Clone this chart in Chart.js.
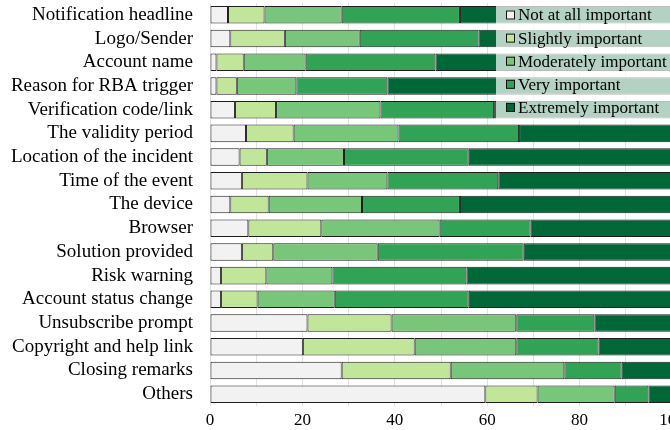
<!DOCTYPE html>
<html>
<head>
<meta charset="utf-8">
<script src="https://cdn.jsdelivr.net/npm/chart.js@4/dist/chart.umd.min.js"></script>
<style>
  html, body { margin: 0; padding: 0; background: #fff; overflow: hidden; }
  #wrap { position: relative; width: 690px; height: 430px; }
</style>
</head>
<body>
<div id="wrap"><canvas id="chart" width="690" height="430"></canvas></div>
<script>
// ── data (percent of respondents) ─────────────────
const categories = [
  'Notification headline', 'Logo/Sender', 'Account name', 'Reason for RBA trigger',
  'Verification code/link', 'The validity period', 'Location of the incident',
  'Time of the event', 'The device', 'Browser', 'Solution provided', 'Risk warning',
  'Account status change', 'Unsubscribe prompt', 'Copyright and help link',
  'Closing remarks', 'Others'
];
const seriesNames = [
  'Not at all important', 'Slightly important', 'Moderately important',
  'Very important', 'Extremely important'
];
const notAtAll   = [3.9, 4.4, 1.4, 1.4, 5.4, 7.8, 6.4, 6.9, 4.4, 8.3, 6.9, 2.4, 2.4, 21.1, 20.1, 28.5, 59.6];
const slightly   = [7.9, 11.8, 5.9, 4.4, 8.9, 10.3, 5.9, 14.2, 8.3, 15.8, 6.8, 9.8, 7.9, 18.2, 24.2, 23.6, 11.3];
const moderately = [16.7, 16.2, 13.4, 12.9, 22.6, 22.7, 16.7, 17.3, 20.2, 25.6, 22.6, 14.3, 16.7, 27.0, 22.0, 24.6, 16.7];
const very       = [25.6, 25.7, 28.1, 19.7, 24.6, 26.1, 27.0, 24.0, 21.2, 19.7, 31.6, 29.0, 29.0, 16.9, 17.8, 12.4, 7.3];
const extremely  = [45.9, 41.9, 51.2, 61.6, 38.5, 33.1, 44.0, 37.6, 45.9, 30.6, 32.1, 44.5, 44.0, 16.8, 15.9, 10.9, 5.1];
const xTicks     = [0, 20, 40, 60, 80, 100];

const palette = ['#f2f2f2', '#c2e699', '#78c679', '#31a354', '#006837'];
const FONT = "'Liberation Serif', 'Times New Roman', serif";

// ── legend drawn over the top-right corner ─────────
const overlayLegend = {
  id: 'overlayLegend',
  afterDraw(chart) {
    const ctx = chart.ctx;
    ctx.save();
    ctx.fillStyle = 'rgba(255,255,255,0.7)';
    ctx.fillRect(496, 0, 200, 121);
    ctx.font = '17px ' + FONT;
    ctx.textBaseline = 'middle';
    chart.data.datasets.forEach((ds, i) => {
      const cy = 15 + i * 23.1;
      ctx.fillStyle = ds.backgroundColor;
      ctx.fillRect(506, cy - 4.5, 9, 9);
      ctx.strokeStyle = '#111';
      ctx.lineWidth = 1;
      ctx.strokeRect(506.5, cy - 4, 8, 8);
      ctx.fillStyle = '#000';
      ctx.fillText(ds.label, 518, cy + 1);
    });
    ctx.restore();
  }
};

const seriesValues = [notAtAll, slightly, moderately, very, extremely];

new Chart(document.getElementById('chart'), {
  type: 'bar',
  data: {
    labels: categories,
    datasets: seriesNames.map((name, i) => ({
      label: name,
      data: seriesValues[i],
      backgroundColor: palette[i],
      borderColor: '#1e1e1e',
      borderWidth: 1,
      borderSkipped: false,
      categoryPercentage: 1,
      barPercentage: 0.74
    }))
  },
  options: {
    indexAxis: 'y',
    responsive: false,
    animation: false,
    layout: { padding: { top: 3, right: 18, left: 0, bottom: 0 } },
    plugins: {
      legend: { display: false },
      tooltip: { enabled: false }
    },
    scales: {
      x: {
        stacked: true,
        min: 0, max: 100,
        border: { display: false },
        grid: { color: '#e2e2e2', drawTicks: false },
        ticks: {
          stepSize: 10,
          padding: 4,
          color: '#000',
          font: { family: FONT, size: 17 },
          maxRotation: 0,
          callback: v => xTicks.includes(v) ? String(v) : ''
        },
        afterFit: scale => {
          scale.height = 24;
          scale.paddingLeft = 0;
          scale.paddingRight = 0;
        }
      },
      y: {
        stacked: true,
        border: { display: false },
        grid: { display: false, drawTicks: false },
        ticks: {
          autoSkip: false,
          padding: 17,
          color: '#000',
          font: { family: FONT, size: 19 }
        },
        afterFit: scale => {
          scale.width = 210;
          scale.paddingTop = 0;
          scale.paddingBottom = 0;
        }
      }
    }
  },
  plugins: [overlayLegend]
});
</script>
</body>
</html>
